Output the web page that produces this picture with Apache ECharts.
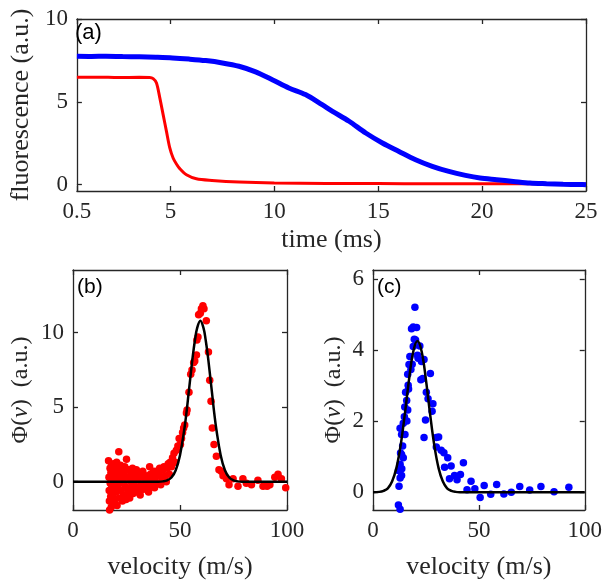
<!DOCTYPE html>
<html>
<head>
    <meta charset="utf-8" />
    <title>fluorescence and velocity distributions</title>
    <script src="https://cdn.jsdelivr.net/npm/echarts@6.0.0/dist/echarts.min.js"></script>
    <style>
        html, body { margin: 0; padding: 0; background: #ffffff; }
        #main { width: 605px; height: 581px; }
    </style>
</head>
<body>
<div id="main"></div>
<script>
    // panel (a): fluorescence traces
    let blueTime = [0.5, 1.2, 1.9, 2.7, 3.5, 4.3, 5.1, 5.9, 6.7, 7.5, 8.3, 9.1, 9.9, 10.7, 11.5, 12.3, 12.8,
        13.6, 14.4, 15.2, 16.0, 16.8, 17.6, 18.4, 19.2, 19.9, 20.7, 21.5, 22.3, 23.1, 23.9, 24.7, 25];
    let blueSignal = [7.75, 7.74, 7.75, 7.73, 7.72, 7.69, 7.65, 7.58, 7.49, 7.35, 7.15, 6.81, 6.34, 5.84, 5.44, 4.83, 4.43,
        3.83, 3.12, 2.52, 2.01, 1.51, 1.11, 0.80, 0.56, 0.40, 0.30, 0.20, 0.10, 0.06, 0.03, 0.01, 0.0];
    let redTime = [0.5, 1.5, 2.5, 3.5, 4.0, 4.17, 4.33, 4.49, 4.65, 4.81, 4.97, 5.13, 5.29, 5.45, 5.77, 6.25, 7.0, 8.3,
        10, 12.5, 15, 17.5, 20, 22.5, 25];
    let redSignal = [6.48, 6.49, 6.47, 6.48, 6.47, 6.4, 6.14, 5.24, 4.23, 3.22, 2.22, 1.61, 1.25, 0.97, 0.6, 0.36, 0.26, 0.16,
        0.1, 0.08, 0.07, 0.06, 0.05, 0.05, 0.04];

    // panel (b): red data points and fit
    let bVelocity = [16.6, 16.8, 16.9, 17.0, 17.1, 17.3, 17.4, 17.6, 17.7, 17.9, 18.0, 18.1,
        18.4, 18.6, 18.8, 19.0, 19.2, 19.4, 19.6, 19.8, 19.9,
        20.2, 20.4, 20.6, 20.8, 21.0, 21.4, 21.5, 21.7, 21.9,
        22.2, 22.5, 22.8, 23.1, 23.4, 23.6, 23.9,
        24.2, 24.5, 24.8, 25.0, 25.3, 25.6, 25.9,
        26.2, 26.5, 26.8, 27.1, 27.5, 27.8,
        28.1, 28.4, 28.8, 29.2, 29.6, 29.9,
        30.3, 30.7, 31.1, 31.4, 31.8,
        32.2, 32.6, 33.0, 33.5,
        34.0, 34.4, 34.8, 35.3, 35.8,
        36.2, 36.6, 37.1, 37.6,
        38.1, 38.5, 39.0, 39.5,
        40.0, 40.5, 41.0, 41.5,
        42.0, 42.5, 43.0, 43.6,
        44.0, 44.5, 45.0, 45.4,
        46.0, 46.5, 47.2, 47.8,
        48.3, 49.0, 49.6,
        50.2, 50.7, 51.2, 51.7, 52.2, 53.0, 53.3, 54.2, 55.0, 55.6, 56.4, 56.9, 57.7, 57.9, 58.4, 58.7,
        59.5, 60.0, 60.7, 61.2, 62.3, 63.3, 63.9, 64.5, 65.1, 65.9, 67.0, 68.2, 69.3, 70.1, 71.7, 72.9,
        74.8, 77.1, 79.4, 81.0, 83.4, 86.4, 88.8, 90.7, 92.0, 94.3, 95.8, 97.4, 99.4];
    let bPhi = [1.4, 0.3, -0.6, -1.3, -1.9, 0.9, -0.1, -1.0, 0.6, -1.7, 1.1, -0.4,
        0.2, -0.8, 1.2, -1.5, 0.5, -0.2, -1.2, 0.9, 0.0,
        -0.7, 1.3, -1.6, 0.3, -0.4, 2.0, -1.1, 0.7, -0.1,
        1.1, -0.6, 0.4, -1.3, 0.2, -0.9, 0.6,
        1.0, -0.3, -1.2, 1.5, 0.3, -0.6, 0.8,
        -0.9, -1.1, 0.4, 0.0, -0.4, 0.9,
        -0.8, 0.5, 0.1, -0.3, 0.8, -0.7,
        0.2, -0.5, 0.6, -0.9, -0.2,
        0.3, 0.7, -0.5, -0.1,
        0.4, -0.4, 0.0, -0.7, 1.0,
        0.5, 0.1, -0.3, 0.7,
        -0.4, 0.3, 0.7, -0.1,
        0.5, 0.9, -0.2, 0.2,
        0.8, 1.0, 0.4, 0.0,
        0.9, 1.2, 0.5, 1.3,
        1.0, 1.6, 1.9, 1.3,
        2.1, 2.4, 2.9,
        2.5, 2.9, 3.3, 3.6, 3.8, 4.6, 4.8, 6.0, 7.2, 7.5, 8.0, 8.1, 8.5, 9.5, 9.7, 11.2,
        11.3, 11.6, 11.8, 11.6, 10.8, 8.7, 6.8, 5.4, 3.6, 2.5, 1.7, 0.8, 0.7, 0.4, 0.2, -0.2,
        0.2, -0.3, 0.2, -0.1, -0.2, 0.1, -0.3, -0.3, -0.2, 0.3, 0.5, 0.2, -0.4];
    let bFitVelocity = [0, 40, 42, 44, 46, 48, 50, 52, 53, 54, 55, 56, 57, 58, 59.5, 61, 62, 63, 64, 65, 66, 67, 69, 71, 73, 75, 77, 79, 100];
    let bFitPhi = [0, 0, 0.02, 0.09, 0.28, 0.77, 1.78, 3.5, 4.6, 5.9, 7.2, 8.45, 9.5, 10.3, 10.8, 10.3, 9.5, 8.45, 7.2, 5.9, 4.6, 3.5, 1.78, 0.77, 0.28, 0.09, 0.02, 0, 0];

    // panel (c): blue data points and fit
    let cVelocity = [12.0, 12.8, 12.3, 12.8, 13.5, 12.0, 12.8, 14.3, 13.5, 13.6, 13.5, 15.1, 12.8, 14.3, 14.8, 16.4,
        15.9, 15.4, 16.6, 16.4, 17.9, 17.0, 17.4, 19.0, 20.1, 18.2, 19.0, 20.6, 19.8, 21.3, 22.1, 22.9,
        24.1, 22.6, 27.1, 25.2, 26.0, 28.3, 27.9, 24.8, 24.1, 29.9, 31.0, 29.9, 32.2, 33.5, 35.3, 36.9,
        33.8, 42.7, 38.5, 41.3, 39.7, 36.1, 46.3, 44.4, 48.1, 52.5, 50.6, 55.6, 58.4, 61.8, 65.3, 69.3,
        74.0, 79.3, 85.5, 92.5, 14.0, 15.0, 16.0, 13.0, 16.8, 18.5, 19.5, 21.0, 23.5];
    let cPhi = [-0.36, -0.48, 0.17, 0.40, 0.47, 0.61, 0.79, 0.97, 1.06, 0.66, 1.62, 1.62, 1.8, 1.94, 2.12, 2.31,
        2.58, 2.81, 3.01, 3.32, 3.45, 3.59, 3.82, 4.1, 4.28, 4.6, 4.65, 4.63, 5.2, 3.77, 4.11, 3.68,
        3.73, 3.16, 3.34, 2.81, 2.63, 2.49, 2.28, 2.03, 1.54, 1.54, 1.55, 1.27, 1.18, 1.11, 0.97, 0.74,
        0.70, 0.83, 0.47, 0.5, 0.35, 0.38, 0.31, 0.07, 0.1, 0.19, -0.15, -0.06, 0.22, -0.05, 0.0, 0.16,
        0.06, 0.16, 0.01, 0.14, 1.3, 2.4, 2.0, 1.1, 2.9, 3.6, 4.3, 3.85, 3.2];
    let cFitVelocity = [0, 3, 5, 7, 9, 11, 13, 15, 17, 19, 21, 23, 25, 27, 29, 31, 33, 35, 37, 39, 41, 100];
    let cFitPhi = [0, 0.01, 0.04, 0.11, 0.3, 0.67, 1.3, 2.18, 3.16, 3.95, 4.25, 3.95, 3.16, 2.18, 1.3, 0.67, 0.3, 0.11, 0.04, 0.01, 0, 0];

    let aXTicks = [0.5, 5, 10, 15, 20, 25];
    let aYTicks = [0, 5, 10];
    let vTicks = [0, 50, 100];
    let bYTicks = [0, 5, 10];
    let cYTicks = [0, 2, 4, 6];

    function zip(xs, ys) {
        return xs.map(function (x, i) { return [x, ys[i]]; });
    }

    let axisColor = '#262626';
    let serif = 'Liberation Serif';

    function makeAxis(gridIndex, position, min, max, ticks, withLabels, extra) {
        let ax = {
            type: 'value',
            gridIndex: gridIndex,
            position: position,
            min: min,
            max: max,
            axisLine: { show: true, onZero: false, lineStyle: { color: axisColor, width: 1.3 } },
            axisTick: { show: true, inside: true, length: 5, customValues: ticks, lineStyle: { color: axisColor, width: 1.3 } },
            axisLabel: { show: withLabels, customValues: ticks, color: axisColor, fontFamily: serif, fontSize: 23, margin: 9 },
            splitLine: { show: false }
        };
        return Object.assign(ax, extra || {});
    }

    let phiName = '{n|Φ(}{i|v}{n|)  (a.u.)}';
    let phiRich = {
        n: { fontFamily: serif, fontSize: 24, color: axisColor },
        i: { fontFamily: serif, fontSize: 24, fontStyle: 'italic', color: axisColor }
    };

    let chart = echarts.init(document.getElementById('main'), null, { renderer: 'canvas' });

    chart.setOption({
        animation: false,
        backgroundColor: '#ffffff',
        title: [
            { text: '(a)', left: 75, top: 22, padding: 0, textStyle: { fontFamily: 'Liberation Sans', fontSize: 22, fontWeight: 'normal', color: '#000' } },
            { text: '(b)', left: 77, top: 277, padding: 0, textStyle: { fontFamily: 'Liberation Sans', fontSize: 21, fontWeight: 'normal', color: '#000' } },
            { text: '(c)', left: 377, top: 277, padding: 0, textStyle: { fontFamily: 'Liberation Sans', fontSize: 21, fontWeight: 'normal', color: '#000' } }
        ],
        grid: [
            { left: 73, top: 19, width: 513, height: 172 },
            { left: 73, top: 270, width: 214, height: 245 },
            { left: 373, top: 270, width: 214, height: 245 }
        ],
        xAxis: [
            makeAxis(0, 'bottom', 0.5, 25, aXTicks, true, {
                name: 'time (ms)', nameLocation: 'middle', nameGap: 36,
                nameTextStyle: { fontFamily: serif, fontSize: 26, color: axisColor }
            }),
            makeAxis(0, 'top', 0.5, 25, aXTicks, false),
            makeAxis(1, 'bottom', 0, 100, vTicks, true, {
                name: 'velocity (m/s)', nameLocation: 'middle', nameGap: 44,
                nameTextStyle: { fontFamily: serif, fontSize: 26, color: axisColor }
            }),
            makeAxis(1, 'top', 0, 100, vTicks, false),
            makeAxis(2, 'bottom', 0, 100, vTicks, true, {
                name: 'velocity (m/s)', nameLocation: 'middle', nameGap: 44,
                nameTextStyle: { fontFamily: serif, fontSize: 26, color: axisColor }
            }),
            makeAxis(2, 'top', 0, 100, vTicks, false)
        ],
        yAxis: [
            makeAxis(0, 'left', -0.38, 10, aYTicks, true, {
                name: 'fluorescence (a.u.)', nameLocation: 'middle', nameGap: 38,
                nameTextStyle: { fontFamily: serif, fontSize: 26, color: axisColor }
            }),
            makeAxis(0, 'right', -0.38, 10, aYTicks, false),
            makeAxis(1, 'left', -1.9, 14.2, bYTicks, true, {
                name: phiName, nameLocation: 'middle', nameGap: 40,
                nameTextStyle: { rich: phiRich }
            }),
            makeAxis(1, 'right', -1.9, 14.2, bYTicks, false),
            makeAxis(2, 'left', -0.5, 6.25, cYTicks, true, {
                name: phiName, nameLocation: 'middle', nameGap: 27,
                nameTextStyle: { rich: phiRich }
            }),
            makeAxis(2, 'right', -0.5, 6.25, cYTicks, false)
        ],
        series: [
            {
                type: 'line', xAxisIndex: 0, yAxisIndex: 0, data: zip(redTime, redSignal),
                showSymbol: false, smooth: 0.3, lineStyle: { color: '#ff0000', width: 3 }, z: 2
            },
            {
                type: 'line', xAxisIndex: 0, yAxisIndex: 0, data: zip(blueTime, blueSignal),
                showSymbol: false, smooth: 0.3, lineStyle: { color: '#0000ff', width: 5 }, z: 3
            },
            {
                type: 'scatter', xAxisIndex: 2, yAxisIndex: 2, data: zip(bVelocity, bPhi),
                symbolSize: 7.5, itemStyle: { color: '#ff0000', opacity: 1 }, z: 2
            },
            {
                type: 'line', xAxisIndex: 2, yAxisIndex: 2, data: zip(bFitVelocity, bFitPhi),
                showSymbol: false, smooth: 0.4, lineStyle: { color: '#000000', width: 2.5 }, z: 3
            },
            {
                type: 'scatter', xAxisIndex: 4, yAxisIndex: 4, data: zip(cVelocity, cPhi),
                symbolSize: 7.5, itemStyle: { color: '#0000ff', opacity: 1 }, z: 2
            },
            {
                type: 'line', xAxisIndex: 4, yAxisIndex: 4, data: zip(cFitVelocity, cFitPhi),
                showSymbol: false, smooth: 0.4, lineStyle: { color: '#000000', width: 2.5 }, z: 3
            }
        ]
    });
</script>
</body>
</html>
